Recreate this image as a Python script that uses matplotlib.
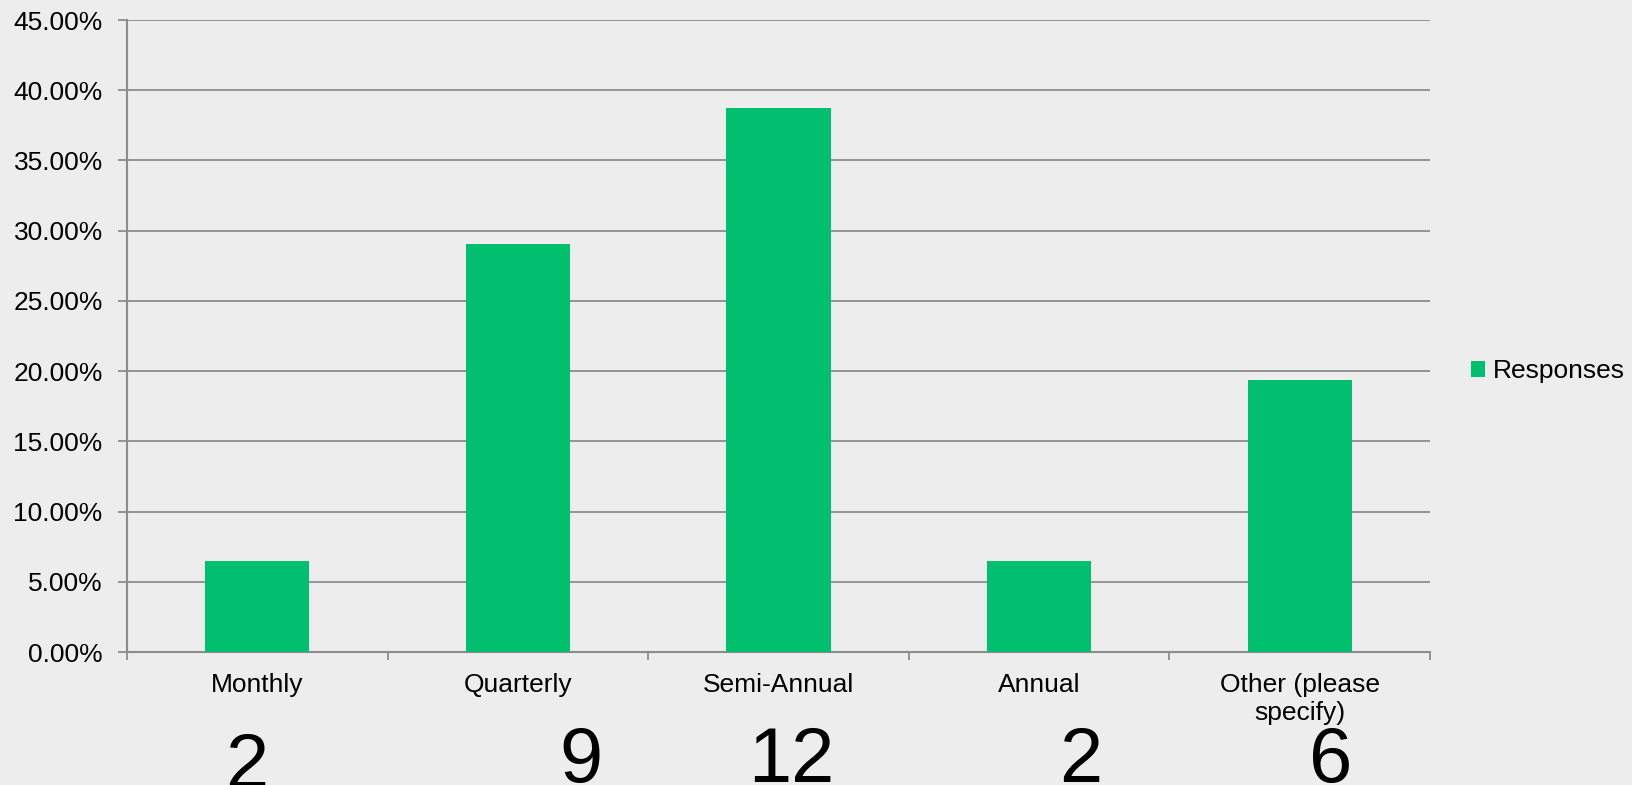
import matplotlib as mpl
import matplotlib.pyplot as plt
from matplotlib.patches import Patch
from matplotlib.ticker import FuncFormatter, MultipleLocator
from matplotlib.transforms import blended_transform_factory

mpl.use('Agg')

categories = ["Monthly", "Quarterly", "Semi-Annual", "Annual", "Other (please\nspecify)"]
responses = [0.0645, 0.2903, 0.3871, 0.0645, 0.1935]
counts = [2, 9, 12, 2, 6]
series_name = "Responses"

# where the loose count numbers sit under each category (offset in category units)
count_dx = [-0.04, 0.24, 0.05, 0.16, 0.12]
count_y = [-0.004, 0.004, 0.004, 0.004, 0.004]

bg = "#ededed"
green = "#00bf6f"
grey = "#8c8c8c"

plt.rcParams['font.family'] = ['Liberation Sans', 'DejaVu Sans']

fig = plt.figure(figsize=(16.33, 7.85), dpi=100, facecolor=bg)
ax = fig.add_axes([0.0778, 0.1694, 0.7979, 0.8051])
ax.set_facecolor(bg)

x = list(range(len(categories)))
ax.bar(x, responses, width=0.4, color=green, zorder=3)

ax.set_xlim(-0.5, len(categories) - 0.5)
ax.set_ylim(0, 0.45)
ax.yaxis.set_major_locator(MultipleLocator(0.05))
ax.yaxis.set_major_formatter(FuncFormatter(lambda v, p: "{:.2f}%".format(v * 100)))
ax.grid(axis='y', color=grey, linewidth=1.3, zorder=0)
ax.grid(axis='x', visible=False)

ax.set_xticks(x)
ax.set_xticklabels(categories, fontsize=19)
ax.set_xticks([i - 0.5 for i in range(len(categories) + 1)], minor=True)
ax.tick_params(axis='x', which='major', length=0, pad=15)
ax.tick_params(axis='x', which='minor', length=6, width=1.3, color=grey)
ax.tick_params(axis='y', length=6.5, width=1.3, color=grey, labelsize=19, pad=11)

for s in ['top', 'right']:
    ax.spines[s].set_visible(False)
for s in ['left', 'bottom']:
    ax.spines[s].set_color(grey)
    ax.spines[s].set_linewidth(1.5)

trans = blended_transform_factory(ax.transData, fig.transFigure)
for i, c in enumerate(counts):
    ax.text(i + count_dx[i], count_y[i], str(c), transform=trans, fontsize=56,
            ha='center', va='baseline', clip_on=False)

handle = Patch(facecolor=green, edgecolor='none', label=series_name)
fig.legend(handles=[handle], loc='center left', bbox_to_anchor=(0.901, 0.527),
           frameon=False, fontsize=19, handlelength=0.53, handleheight=0.53,
           handletextpad=0.27, borderpad=0, borderaxespad=0)

fig.savefig("out.png", dpi=100, facecolor=bg)
